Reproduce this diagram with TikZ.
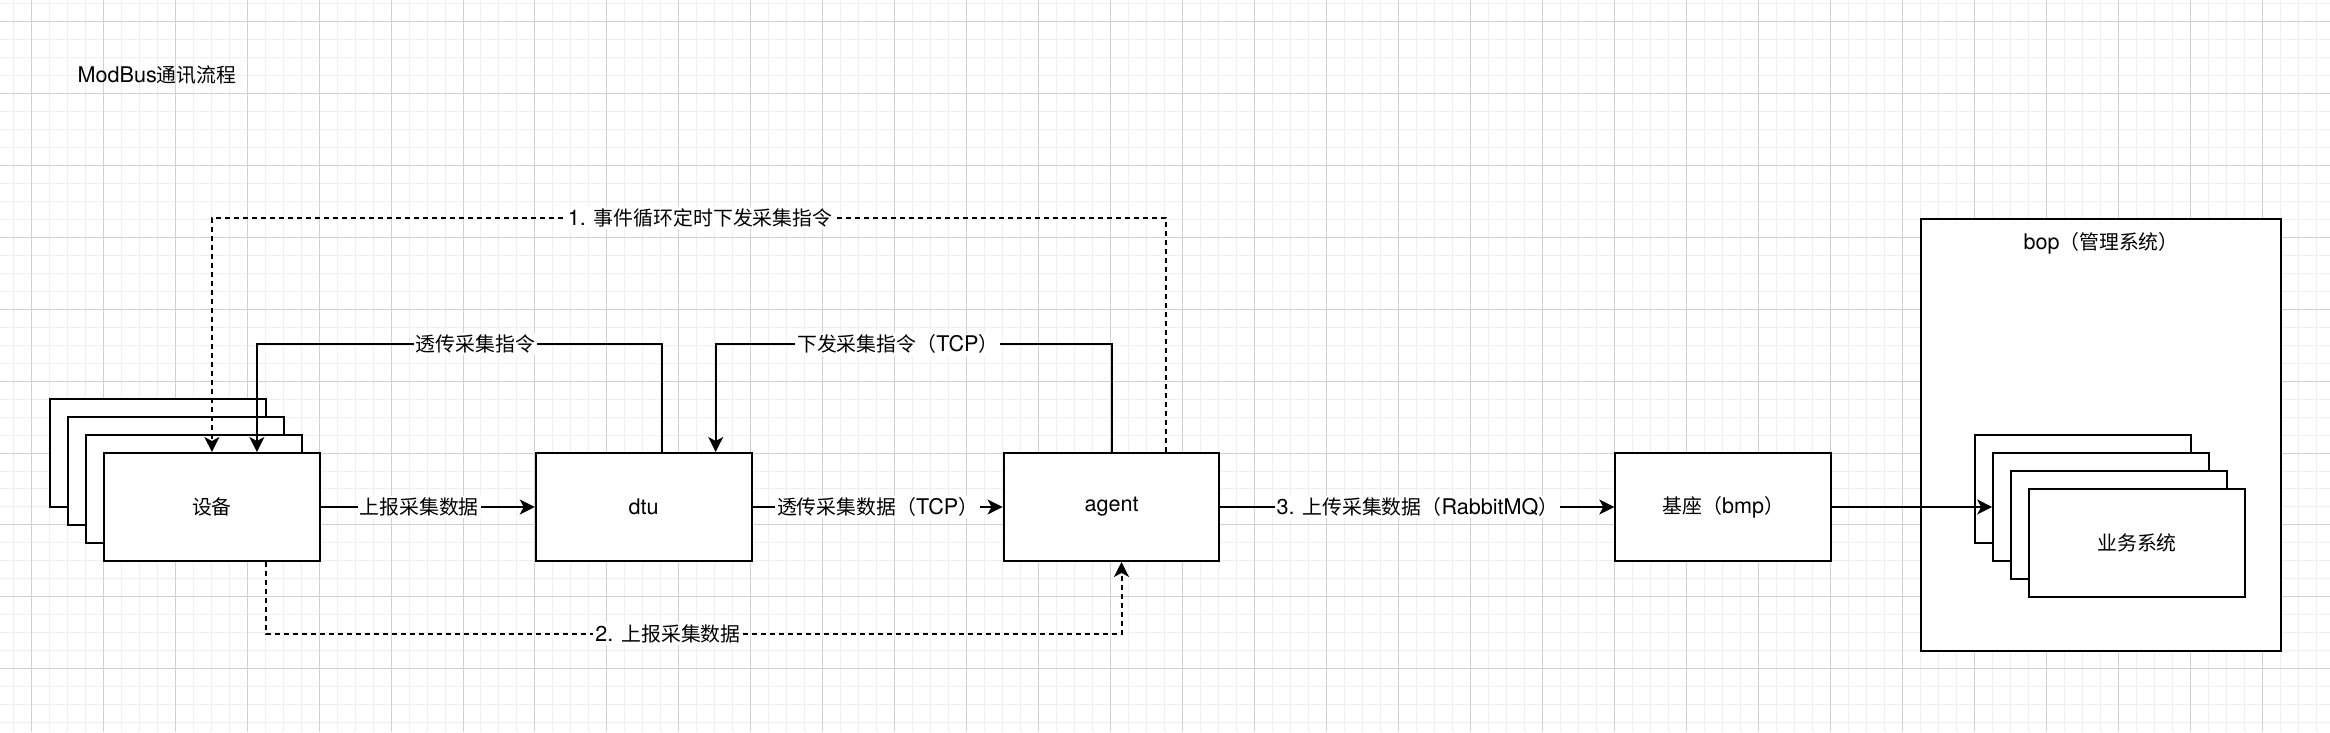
\documentclass[tikz,border=0pt]{standalone}
\usepackage{fontspec}
\setmainfont{TeX Gyre Heros}
\newfontfamily\cjk[Scale=0.92]{Noto Sans CJK SC}
\newcommand{\zh}[1]{{\cjk #1}}
\usetikzlibrary{arrows.meta,calc}

\tikzset{
  box/.style={draw, line width=1pt, fill=white, minimum width=108pt, minimum height=54pt, inner sep=0pt},
  conn/.style={line width=1pt, -{Stealth[length=7.5pt,width=7.5pt,inset=2pt]}},
  dashconn/.style={conn, dash pattern=on 2.5pt off 2pt},
  lbl/.style={fill=white, inner sep=1pt},
  minorgrid/.style={black!6, line width=0.5pt},
  majorgrid/.style={black!18, line width=0.5pt},
}

\begin{document}
\begin{tikzpicture}[x=0.5pt, y=-0.5pt, font=\fontsize{10.8}{13}\selectfont]
			%%%%% GRID %%%%%
			\fill[white] (0,0) rectangle (2330,732);
			\foreach \x in {12.7,30.7,...,2330} \draw[minorgrid] (\x,0) -- (\x,732);
			\foreach \y in {2.7,20.7,...,732} \draw[minorgrid] (0,\y) -- (2330,\y);
			\foreach \x in {30.7,102.7,...,2330} \draw[majorgrid] (\x,0) -- (\x,732);
			\foreach \y in {20.7,92.7,...,732} \draw[majorgrid] (0,\y) -- (2330,\y);
			\useasboundingbox (0,0) rectangle (2330,732);
			
			\node (title) at (156.5,75) {ModBus\zh{通讯流程}};
			
			%%%%% BOP %%%%%
			\node[draw, line width=1pt, fill=white, minimum width=180pt, minimum height=216pt] (bop) at (2101.5,434.7) {};
			\node (boptitle) at (2101.5,243) {bop\zh{（管理系统）}};
			\node[box] (biz3) at (2083.5,488.7) {};
			\node[box] (biz2) at (2101.5,506.7) {};
			\node[box] (biz1) at (2119.5,524.7) {};
			\node[box] (biz) at (2137.5,542.7) {\zh{业务系统}};
			
			%%%%% DEVICES %%%%%
			\node[box] (dev3) at (157.5,452.7) {};
			\node[box] (dev2) at (175.5,470.7) {};
			\node[box] (dev1) at (193.5,488.7) {};
			\node[box] (dev) at (211.5,506.7) {\zh{设备}};
			
			\node[box] (dtu) at (643.5,506.7) {dtu};
			\node[box] (agent) at (1111.5,506.7) {agent};
			\node[box] (bmp) at (1723.5,506.7) {\zh{基座（}bmp\zh{）}};
			
			%%%%% FLOWS %%%%%
			\draw[conn] (dev) -- node[lbl,pos=0.46]{\zh{上报采集数据}} (dtu);
			\draw[conn] (dtu) -- node[lbl]{\zh{透传采集数据（}TCP\zh{）}} (agent);
			\draw[conn] (agent) -- node[lbl]{3. \zh{上传采集数据（}RabbitMQ\zh{）}} (bmp);
			\draw[conn] (bmp) -- (biz2);
			
			\draw[conn] ([xshift=9pt]dtu.north) -- ++(0,-108) -| node[lbl,pos=0.23]{\zh{透传采集指令}} ([xshift=22.5pt]dev.north);
			\draw[conn] (agent.north) -- ++(0,-108) -| node[lbl,pos=0.27]{\zh{下发采集指令（}TCP\zh{）}} ([xshift=36pt]dtu.north);
			
			\draw[dashconn] ([xshift=27pt]agent.north) -- ++(0,-234) -| node[lbl,pos=0.244]{1. \zh{事件循环定时下发采集指令}} (dev.north);
			\draw[dashconn] ([xshift=27pt]dev.south) -- ++(0,72) -| node[lbl,pos=0.235]{2. \zh{上报采集数据}} ([xshift=5pt]agent.south);
\end{tikzpicture}
\end{document}
